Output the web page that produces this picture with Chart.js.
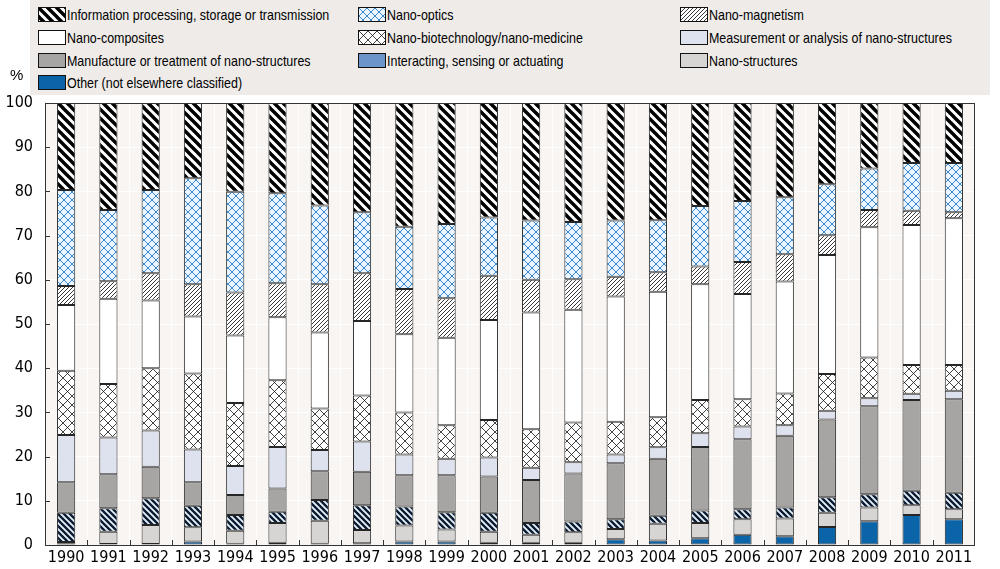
<!DOCTYPE html>
<html>
<head>
<meta charset="utf-8">
<script src="https://cdn.jsdelivr.net/npm/chart.js@4.4.0/dist/chart.umd.min.js"></script>
<style>
  body { margin: 0; background: #fff; font-family: 'Liberation Sans', Arial, sans-serif; }
  #wrap { position: relative; width: 1000px; height: 569px; }
  #chart { position: absolute; left: 0; top: 0; }
  #legend { position: absolute; left: 30px; top: 0; width: 960px; height: 95px; background: #eeebe8; z-index: 2; }
  .item { position: absolute; display: flex; align-items: center; color: #000; white-space: nowrap; }
  .item canvas { border: 1px solid #111; margin-right: 1px; }
  .item span { display: inline-block; font-size: 15px; transform: scaleX(0.83); transform-origin: left center; }
  #pct { position: absolute; left: 10px; top: 66px; font-size: 15px; z-index: 2; }
</style>
</head>
<body>
<div id="wrap">
  <canvas id="chart" width="1000" height="569"></canvas>
  <div id="legend"></div>
  <div id="pct">%</div>
</div>
<script>
// Parts du total (%) par domaine, 1990-2011, empilées du bas vers le haut
const YEARS = ['1990','1991','1992','1993','1994','1995','1996','1997','1998','1999','2000',
               '2001','2002','2003','2004','2005','2006','2007','2008','2009','2010','2011'];

const OTHER       = [0.3,0.2,0.2,0.8,0.3,0.5,0.3,0.4,0.8,0.8,0.5,0.5,0.5,1.3,1.0,1.5,2.3,2.0,4.1,5.4,6.8,5.8];
const NANO_STRUCT = [0.4,2.8,4.3,3.2,2.9,4.5,5.2,3.0,3.6,2.7,2.5,1.8,2.4,2.3,3.8,3.5,3.5,4.0,3.2,3.1,2.2,2.3];
const INTERACT    = [6.6,5.3,6.1,4.9,3.6,2.5,4.7,5.6,4.3,3.9,4.3,2.7,2.4,2.2,1.8,2.8,2.3,2.5,3.5,3.0,3.3,3.7];
const MANUF       = [6.9,7.7,7.1,5.3,4.5,5.3,6.5,7.6,7.1,8.4,8.2,9.7,10.9,12.7,12.9,14.4,15.8,16.2,17.6,19.9,20.5,21.2];
const MEASURE     = [10.7,8.3,8.2,7.4,6.6,9.4,4.8,6.8,4.7,3.7,4.3,2.8,2.5,2.0,2.6,3.1,2.9,2.4,2.0,1.8,1.4,1.9];
const BIOTECH     = [14.5,12.1,14.1,17.2,14.2,15.1,9.4,10.4,9.5,7.6,8.5,8.7,9.0,7.4,6.8,7.5,6.2,7.2,8.3,9.2,6.5,5.8];
const COMPOSITES  = [14.9,19.3,15.3,12.9,15.3,14.2,17.2,16.9,17.7,19.8,22.6,26.4,25.5,28.3,28.4,26.2,23.8,25.3,26.9,29.5,31.7,33.2];
const MAGNETISM   = [4.3,4.0,6.2,7.3,9.7,7.7,10.9,10.8,10.2,8.9,10.0,7.4,6.9,4.5,4.4,4.0,7.2,6.2,4.5,3.9,3.2,1.4];
const OPTICS      = [21.7,16.1,18.8,24.0,22.8,20.4,17.8,13.8,14.1,16.8,13.2,13.4,13.0,12.7,11.8,13.7,13.8,12.9,11.5,9.4,10.8,11.1];
const INFO        = [19.7,24.2,19.7,17.0,20.1,20.4,23.2,24.7,28.0,27.4,25.9,26.6,26.9,26.6,26.5,23.3,22.2,21.3,18.4,14.8,13.6,13.6];

const Y_TICKS = { min: 0, max: 100, step: 10 };

/** Motif répété (hachures) */
function makePattern(size, bg, color, width, dirs) {
  const c = document.createElement('canvas');
  c.width = size; c.height = size;
  const ctx = c.getContext('2d');
  ctx.fillStyle = bg;
  ctx.fillRect(0, 0, size, size);
  ctx.strokeStyle = color;
  ctx.lineWidth = width;
  ctx.beginPath();
  for (const o of [-size, 0, size]) {
    if (dirs.includes('\\')) { ctx.moveTo(o - 1, -1); ctx.lineTo(o + size + 1, size + 1); }
    if (dirs.includes('/'))  { ctx.moveTo(o - 1, size + 1); ctx.lineTo(o + size + 1, -1); }
  }
  ctx.stroke();
  return ctx.createPattern(c, 'repeat');
}

const P_INFO     = makePattern(9, '#ffffff', '#000000', 3.4, '\\');
const P_INTERACT = makePattern(6, '#e6f3fa', '#0d1b33', 2.4, '\\');
const P_MAGNET   = makePattern(4, '#ffffff', '#222222', 0.9, '/');
const P_OPTICS   = makePattern(8, '#eaf5fd', '#3b86c9', 1, '\\/');
const P_BIOTECH  = makePattern(9, '#ffffff', '#111111', 0.8, '\\/');

// Ordre d'empilement : du bas vers le haut
const SERIES = [
  { label: 'Other (not elsewhere classified)', data: OTHER, fill: '#0b63a8' },
  { label: 'Nano-structures', data: NANO_STRUCT, fill: '#d6d5d4' },
  { label: 'Interacting, sensing or actuating', data: INTERACT, fill: P_INTERACT, legendFill: '#6b95cb' },
  { label: 'Manufacture or treatment of nano-structures', data: MANUF, fill: '#a6a5a4' },
  { label: 'Measurement or analysis of nano-structures', data: MEASURE, fill: '#dde2ee' },
  { label: 'Nano-biotechnology/nano-medicine', data: BIOTECH, fill: P_BIOTECH },
  { label: 'Nano-composites', data: COMPOSITES, fill: '#ffffff' },
  { label: 'Nano-magnetism', data: MAGNETISM, fill: P_MAGNET },
  { label: 'Nano-optics', data: OPTICS, fill: P_OPTICS },
  { label: 'Information processing, storage or transmission', data: INFO, fill: P_INFO },
];

const datasets = SERIES.map(s => ({
  label: s.label,
  data: s.data,
  backgroundColor: s.fill,
  borderColor: '#262626',
  borderWidth: 1,
  borderSkipped: false,
  categoryPercentage: 1,
  barPercentage: 0.43,
}));

// Fond, cadre et petites graduations intérieures
const framePlugin = {
  id: 'frame',
  beforeDraw(chart) {
    const { ctx, chartArea: a } = chart;
    ctx.save();
    ctx.fillStyle = '#f8f5f2';
    ctx.fillRect(a.left, a.top, a.right - a.left, a.bottom - a.top);
    ctx.restore();
  },
  afterDraw(chart) {
    const { ctx, chartArea: a, scales } = chart;
    ctx.save();
    ctx.strokeStyle = '#333';
    ctx.lineWidth = 1;
    ctx.strokeRect(Math.round(a.left) + 0.5, Math.round(a.top) + 0.5,
                   Math.round(a.right - a.left) - 1, Math.round(a.bottom - a.top));
    ctx.beginPath();
    for (let v = Y_TICKS.min + Y_TICKS.step; v < Y_TICKS.max; v += Y_TICKS.step) {
      const y = Math.round(scales.y.getPixelForValue(v)) + 0.5;
      ctx.moveTo(a.left, y); ctx.lineTo(a.left + 5, y);
    }
    for (let i = 0; i < YEARS.length - 1; i++) {
      const x = Math.round((scales.x.getPixelForTick(i) + scales.x.getPixelForTick(i + 1)) / 2) + 0.5;
      ctx.moveTo(x, a.bottom); ctx.lineTo(x, a.bottom - 5);
    }
    ctx.stroke();
    ctx.restore();
  },
};

const FONT = "'DejaVu Sans Condensed', 'Liberation Sans', sans-serif";

new Chart(document.getElementById('chart'), {
  type: 'bar',
  data: { labels: YEARS, datasets },
  plugins: [framePlugin],
  options: {
    responsive: false,
    animation: false,
    devicePixelRatio: 1,
    layout: { padding: { top: 103, right: 25, left: 0, bottom: 0 } },
    plugins: {
      legend: { display: false },
      tooltip: { enabled: false },
    },
    scales: {
      x: {
        stacked: true,
        grid: { color: 'rgba(255,255,255,0.9)', drawTicks: false, offset: true },
        border: { display: false },
        ticks: { color: '#000', font: { family: FONT, size: 16 }, padding: 3, maxRotation: 0, autoSkip: false },
        afterFit: (s) => { s.height = 24; },
      },
      y: {
        stacked: true,
        min: Y_TICKS.min,
        max: Y_TICKS.max,
        grid: { color: 'rgba(255,255,255,0.9)', drawTicks: false },
        border: { display: false },
        ticks: { stepSize: Y_TICKS.step, color: '#000', font: { family: FONT, size: 16 }, padding: 12 },
        afterFit: (s) => { s.width = 45; },
      },
    },
  },
});

// Légende en trois colonnes (ordre inverse de l'empilement)
const legend = document.getElementById('legend');
const COL_X = [8, 328, 650];
const ROW_Y = [6, 29, 52, 74];
SERIES.slice().reverse().forEach((s, i) => {
  const item = document.createElement('div');
  item.className = 'item';
  item.style.left = COL_X[i % 3] + 'px';
  item.style.top = ROW_Y[Math.floor(i / 3)] + 'px';
  const box = document.createElement('canvas');
  box.width = 26; box.height = 13;
  const bctx = box.getContext('2d');
  bctx.fillStyle = s.legendFill || s.fill;
  bctx.fillRect(0, 0, 26, 13);
  item.appendChild(box);
  const txt = document.createElement('span');
  txt.textContent = s.label;
  item.appendChild(txt);
  legend.appendChild(item);
});
</script>
</body>
</html>
